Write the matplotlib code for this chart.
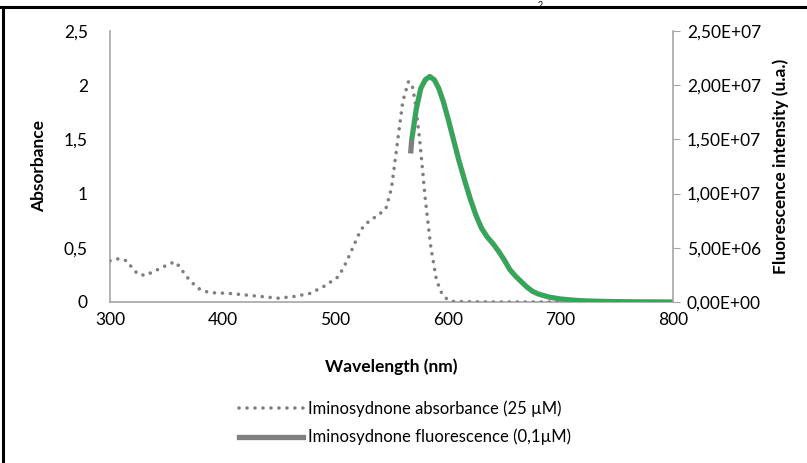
import matplotlib
matplotlib.use("Agg")
import matplotlib.pyplot as plt
from matplotlib.lines import Line2D

plt.rcParams['font.family'] = ['Lato', 'DejaVu Sans']

# absorbance (25 uM)
abs_nm = [300, 308, 315, 320, 325, 332, 338, 345, 352, 358, 363, 367, 372, 377, 383,
          391, 405, 420, 435, 449, 463, 478, 491, 503, 510, 516, 522, 526, 532, 538,
          545, 550, 555, 560, 565, 568, 571, 575, 580, 585, 590, 595, 600, 605, 620,
          650, 700, 720]
abs_val = [0.38, 0.40, 0.38, 0.31, 0.255, 0.245, 0.28, 0.31, 0.35, 0.37, 0.31, 0.245, 0.19, 0.135, 0.10,
           0.085, 0.08, 0.065, 0.05, 0.035, 0.05, 0.08, 0.15, 0.235, 0.37, 0.51, 0.65, 0.71, 0.76, 0.80,
           0.86, 1.05, 1.45, 1.85, 2.03, 2.02, 1.85, 1.50, 0.95, 0.50, 0.20, 0.07, 0.02, 0.005, 0.002,
           0.0, 0.0, 0.0]

# fluorescence (0.1 uM)
fl_nm = [567, 568, 572, 576, 580, 584, 588, 592, 596, 600, 605, 610, 615, 620, 625, 630,
         635, 640, 645, 650, 655, 660, 665, 670, 675, 680, 690, 700, 710, 720, 740, 760,
         780, 800]
fl_val = [1.37e7, 1.50e7, 1.78e7, 1.97e7, 2.05e7, 2.08e7, 2.05e7, 1.97e7, 1.85e7, 1.70e7, 1.50e7,
          1.30e7, 1.12e7, 0.95e7, 0.80e7, 0.68e7, 0.60e7, 0.54e7, 0.47e7, 0.39e7, 0.30e7, 0.24e7,
          0.19e7, 0.14e7, 0.10e7, 0.075e7, 0.045e7, 0.028e7, 0.018e7, 0.011e7, 0.005e7, 0.002e7,
          0.001e7, 0.0]

left_ticks = [0, 0.5, 1, 1.5, 2, 2.5]
left_labels = ["0", "0,5", "1", "1,5", "2", "2,5"]
right_ticks = [0, 5e6, 1e7, 1.5e7, 2e7, 2.5e7]
right_labels = ["0,00E+00", "5,00E+06", "1,00E+07", "1,50E+07", "2,00E+07", "2,50E+07"]
x_ticks = [300, 400, 500, 600, 700, 800]

spine_c = "#A6A6A6"
fs = 12.5

fig = plt.figure(figsize=(8.07, 4.63), dpi=100)
ax = fig.add_axes([110 / 807, 1 - 302 / 463, 563 / 807, 271 / 463])
ax2 = ax.twinx()

ax.plot(abs_nm, abs_val, color="#808080", lw=2.6, linestyle=(0, (0.01, 2.2)),
        dash_capstyle="round", zorder=3)
ax2.plot(fl_nm, fl_val, color="#7F7F7F", lw=3.8, solid_capstyle="butt")
ax2.plot(fl_nm[1:], fl_val[1:], color="#1DB34F", lw=2.6, solid_capstyle="butt")

ax.set_xlim(300, 800)
ax.set_ylim(0, 2.5)
ax2.set_ylim(0, 2.5e7)

ax.set_xticks(x_ticks)
ax.set_yticks(left_ticks)
ax.set_yticklabels(left_labels)
ax2.set_yticks(right_ticks)
ax2.set_yticklabels(right_labels)

for a in (ax, ax2):
    for s in a.spines.values():
        s.set_visible(False)
ax.spines["left"].set_visible(True)
ax.spines["bottom"].set_visible(True)
ax2.spines["right"].set_visible(True)
for s in (ax.spines["left"], ax.spines["bottom"], ax2.spines["right"]):
    s.set_color(spine_c)
    s.set_linewidth(1.2)

ax.tick_params(axis="y", length=0, labelsize=fs, pad=16)
ax.tick_params(axis="x", length=0, labelsize=fs, pad=7)
ax2.tick_params(axis="y", direction="out", length=5, color=spine_c, labelsize=fs, pad=5)

ax.set_xlabel("Wavelength (nm)", fontsize=fs, fontweight="bold", labelpad=22)
ax.set_ylabel("Absorbance", fontsize=fs, fontweight="bold", labelpad=12)
ax2.set_ylabel("Fluorescence intensity (u.a.)", fontsize=fs, fontweight="bold", labelpad=8)

handles = [
    Line2D([], [], color="#808080", lw=2.6, linestyle=(0, (0.01, 2.2)), dash_capstyle="round"),
    Line2D([], [], color="#7F7F7F", lw=3.8),
]
fig.legend(handles, ["Iminosydnone absorbance (25 µM)", "Iminosydnone fluorescence (0,1µM)"],
           loc="center", bbox_to_anchor=(405 / 807, 1 - 423 / 463), frameon=False,
           fontsize=fs - 0.5, handlelength=3.8, handletextpad=0.3, labelspacing=0.7)

# outer frame pieces and the small subscript above the frame
fig.add_artist(Line2D([0, 1], [1 - 7 / 463, 1 - 7 / 463], color="black", lw=2.2,
                      transform=fig.transFigure))
fig.add_artist(Line2D([3 / 807, 3 / 807], [0, 1 - 7 / 463], color="black", lw=2.2,
                      transform=fig.transFigure))
fig.text(540 / 807, 1 - 0.5 / 463, "2", fontsize=6.5, ha="center", va="top")

fig.savefig("out.png", dpi=100)
